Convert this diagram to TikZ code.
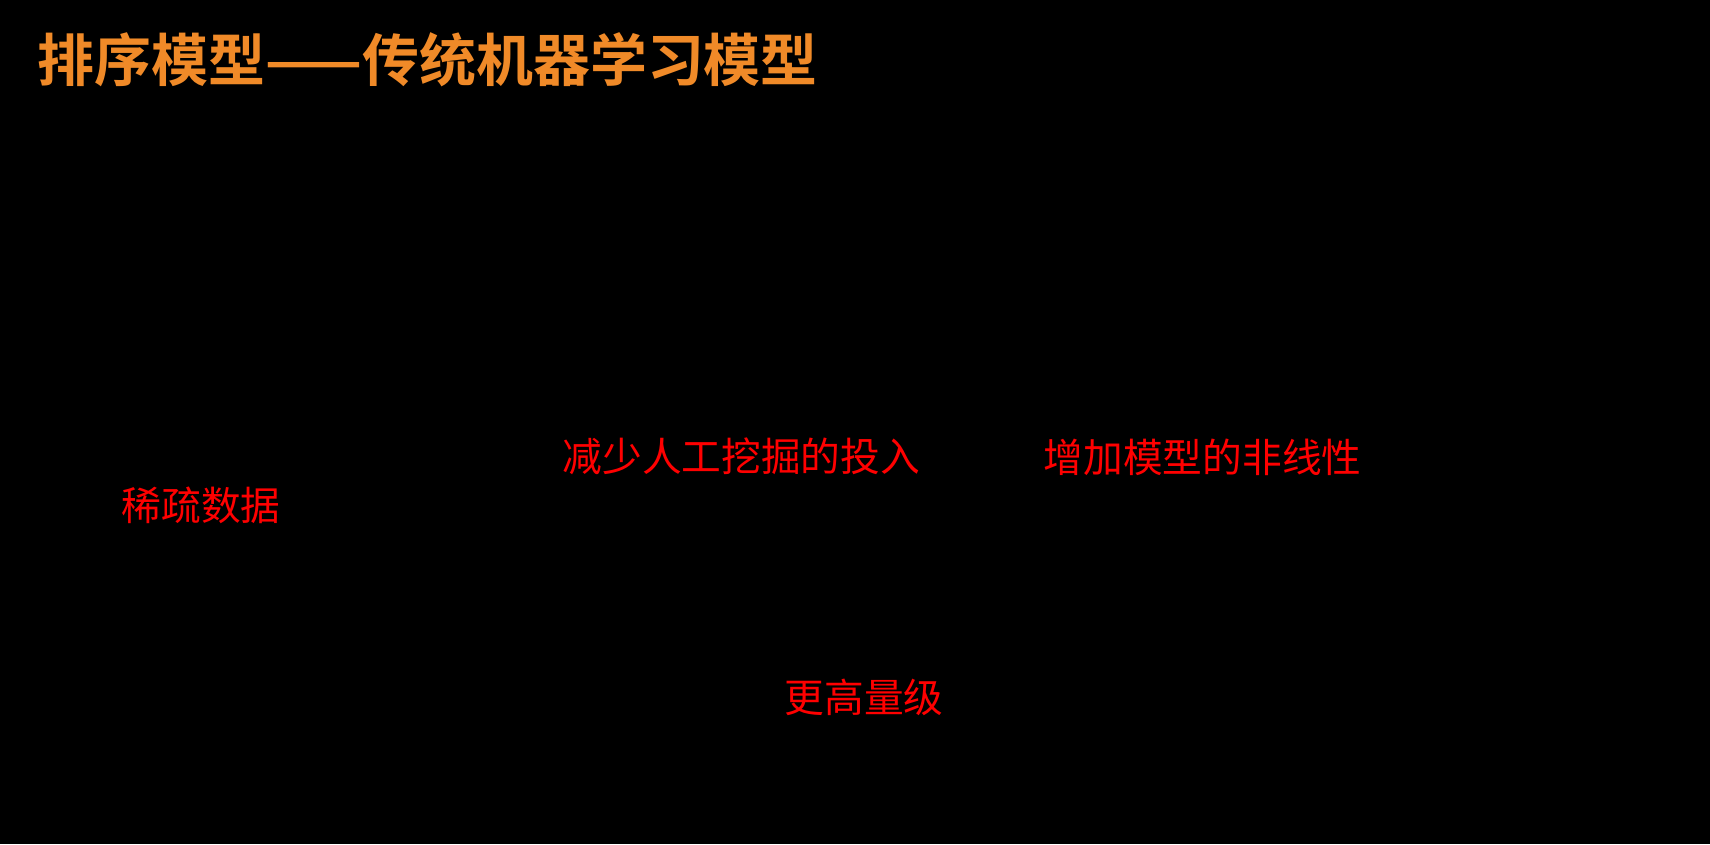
\documentclass[tikz,border=0pt]{standalone}
\usepackage{fontspec}
\newfontfamily\cjk{Noto Sans CJK SC}
\newfontfamily\cjkb{Noto Sans CJK SC Bold}
\definecolor{titleorange}{RGB}{240,138,40}
\definecolor{lblred}{RGB}{255,0,0}
\begin{document}
\begin{tikzpicture}[x=0.1mm,y=-0.1mm,
  titletext/.style={anchor=west,inner sep=0pt,text=titleorange,font=\cjkb\fontsize{16.2pt}{18pt}\selectfont},
  lbl/.style={anchor=west,inner sep=0pt,text=lblred,font=\cjk\fontsize{11.3pt}{13pt}\selectfont}]
\fill[black] (0,0) rectangle (1710,844);
\useasboundingbox (0,0) rectangle (1710,844);
\node[titletext] (title) at (37,60) {排序模型——传统机器学习模型};
\node[lbl] (sparse) at (121,505) {稀疏数据};
\node[lbl] (reduce) at (562,456) {减少人工挖掘的投入};
\node[lbl] (nonlin) at (1043,457) {增加模型的非线性};
\node[lbl] (scale) at (784,697) {更高量级};
\end{tikzpicture}
\end{document}
